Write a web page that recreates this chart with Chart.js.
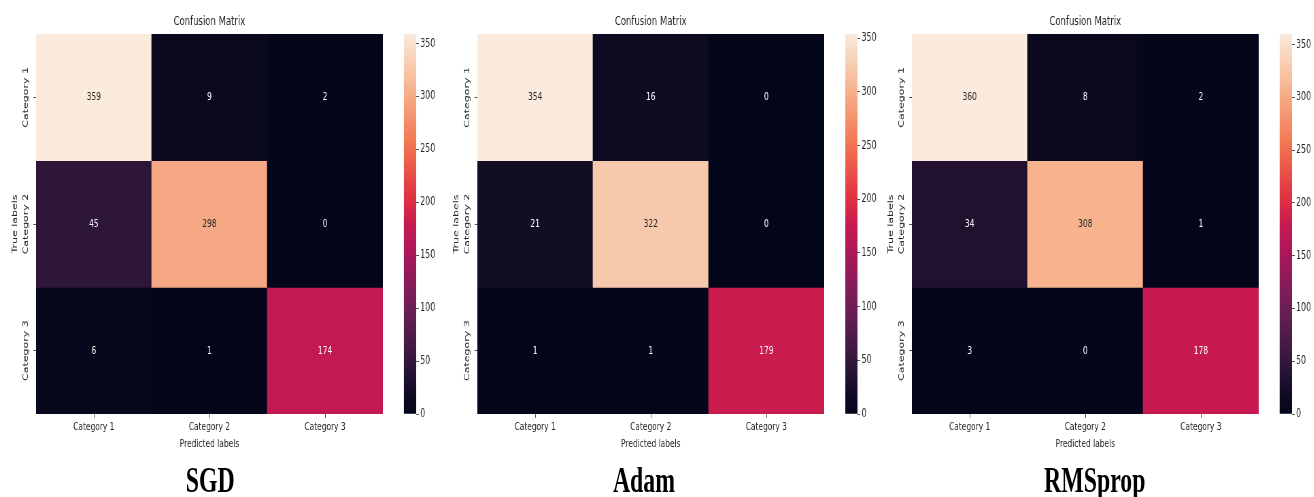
<!DOCTYPE html>
<html>
<head>
<meta charset="utf-8">
<script src="https://cdn.jsdelivr.net/npm/chart.js@4.4.0/dist/chart.umd.min.js"></script>
<style>
  html, body { margin: 0; padding: 0; background: #fff; overflow: hidden; }
  #figure { position: absolute; left: 0; top: 0; width: 1932px; height: 497px; transform: scaleX(0.68); transform-origin: 0 0; }
  .panel { position: absolute; top: 0; height: 460px; }
  .panel canvas { position: absolute; top: 0; }
  .optName { position: absolute; top: 459px; width: 300px; margin-left: -150px; text-align: center;
             font-family: "Liberation Serif", "Times New Roman", serif; font-weight: bold; font-size: 35px; line-height: 44px; color: #000; }
</style>
</head>
<body>
<div id="figure"></div>
<script>
var categories = ['Category 1', 'Category 2', 'Category 3'];
var optimizers = ['SGD', 'Adam', 'RMSprop'];
var sgdMatrix = [[359, 9, 2], [45, 298, 0], [6, 1, 174]];
var adamMatrix = [[354, 16, 0], [21, 322, 0], [1, 1, 179]];
var rmspropMatrix = [[360, 8, 2], [34, 308, 1], [3, 0, 178]];
var matrices = [sgdMatrix, adamMatrix, rmspropMatrix];

var FONT = "'DejaVu Sans', sans-serif";
var TEXT = '#262626';

// layout in unscaled px (figure is squeezed by scaleX(0.68))
var panelLeft = [0, 648.5, 1288.2];
var nameCenter = [309, 947, 1610];

// seaborn "rocket" colormap, approximated
var rocketStops = [
    [0.0, [3, 5, 26]],
    [0.06, [18, 12, 37]],
    [1 / 7, [53, 25, 62]],
    [2 / 7, [112, 31, 87]],
    [3 / 7, [173, 23, 89]],
    [0.5, [200, 26, 80]],
    [4 / 7, [225, 51, 66]],
    [5 / 7, [243, 118, 81]],
    [6 / 7, [246, 180, 143]],
    [1.0, [250, 235, 221]]
];

function rocketRgb(t) {
    t = Math.max(0, Math.min(1, t));
    for (var i = 1; i < rocketStops.length; i++) {
        if (t <= rocketStops[i][0]) {
            var a = rocketStops[i - 1], b = rocketStops[i];
            var f = (t - a[0]) / (b[0] - a[0]);
            return [0, 1, 2].map(function(k) { return Math.round(a[1][k] + f * (b[1][k] - a[1][k])); });
        }
    }
    return rocketStops[rocketStops.length - 1][1];
}
function rocket(t) {
    var c = rocketRgb(t);
    return 'rgb(' + c[0] + ',' + c[1] + ',' + c[2] + ')';
}
function luminance(c) {
    var l = c.map(function(v) {
        v = v / 255;
        return v <= 0.03928 ? v / 12.92 : Math.pow((v + 0.055) / 1.055, 2.4);
    });
    return 0.2126 * l[0] + 0.7152 * l[1] + 0.0722 * l[2];
}

// cell numbers, title, rotated y labels, axis titles
var heatText = {
    id: 'heatText',
    afterDraw: function(chart, args, opts) {
        var ctx = chart.ctx;
        var area = chart.chartArea;
        var yScale = chart.scales.y;
        ctx.save();
        ctx.textAlign = 'center';
        ctx.textBaseline = 'middle';

        // annotations
        ctx.font = '11px ' + FONT;
        chart.data.datasets.forEach(function(ds, d) {
            var meta = chart.getDatasetMeta(d);
            meta.data.forEach(function(bar, i) {
                var v = ds.cellValues[i];
                var rgb = rocketRgb(v / opts.vmax);
                ctx.fillStyle = luminance(rgb) > 0.408 ? TEXT : '#ffffff';
                ctx.fillText(String(v), bar.x, (bar.y + bar.base) / 2);
            });
        });

        ctx.fillStyle = TEXT;
        var cx = (area.left + area.right) / 2;
        ctx.font = '12.5px ' + FONT;
        ctx.fillText(opts.title, cx, 22);

        ctx.font = '11px ' + FONT;
        ctx.fillText(opts.xTitle, cx, 444);

        // y tick labels, rotated
        categories.forEach(function(c, i) {
            ctx.save();
            ctx.translate(38, yScale.getPixelForValue(i + 0.5));
            ctx.rotate(-Math.PI / 2);
            ctx.fillText(c, 0, 0);
            ctx.restore();
        });
        ctx.save();
        ctx.translate(22, (area.top + area.bottom) / 2);
        ctx.rotate(-Math.PI / 2);
        ctx.fillText(opts.yTitle, 0, 0);
        ctx.restore();

        ctx.restore();
    }
};

function makeHeatmap(canvas, matrix) {
    var vmax = Math.max.apply(null, matrix.flat());
    var datasets = matrix.map(function(row, r) {
        return {
            data: row.map(function() { return [r, r + 1]; }),
            cellValues: row,
            backgroundColor: row.map(function(v) { return rocket(v / vmax); }),
            borderWidth: 0,
            grouped: false,
            barPercentage: 1,
            categoryPercentage: 1
        };
    });
    return new Chart(canvas, {
        type: 'bar',
        data: { labels: categories, datasets: datasets },
        options: {
            responsive: false,
            animation: false,
            layout: { padding: { top: 34, right: 12, left: 0, bottom: 0 } },
            plugins: {
                legend: { display: false },
                tooltip: { enabled: false },
                heatText: { vmax: vmax, title: 'Confusion Matrix', xTitle: 'Predicted labels', yTitle: 'True labels' }
            },
            scales: {
                x: {
                    type: 'category',
                    grid: { offset: false, drawOnChartArea: false, drawTicks: true, tickLength: 4, color: '#555' },
                    border: { display: false },
                    ticks: { font: { family: FONT, size: 11 }, color: TEXT, padding: 3, maxRotation: 0 },
                    afterFit: function(s) { s.height = 46; }
                },
                y: {
                    type: 'linear',
                    min: 0,
                    max: 3,
                    reverse: true,
                    afterBuildTicks: function(s) {
                        s.ticks = categories.map(function(c, i) { return { value: i + 0.5 }; });
                    },
                    ticks: { display: false },
                    grid: { drawOnChartArea: false, drawTicks: true, tickLength: 4, color: '#555' },
                    border: { display: false },
                    afterFit: function(s) { s.width = 53; }
                }
            }
        },
        plugins: [heatText]
    });
}

function makeColorbar(canvas, matrix) {
    var vmax = Math.max.apply(null, matrix.flat());
    return new Chart(canvas, {
        type: 'bar',
        data: {
            labels: [''],
            datasets: [{
                data: [[0, vmax]],
                borderWidth: 0,
                barPercentage: 1,
                categoryPercentage: 1,
                backgroundColor: function(c) {
                    var area = c.chart.chartArea;
                    if (!area) return null;
                    var g = c.chart.ctx.createLinearGradient(0, area.bottom, 0, area.top);
                    for (var i = 0; i <= 40; i++) g.addColorStop(i / 40, rocket(i / 40));
                    return g;
                }
            }]
        },
        options: {
            responsive: false,
            animation: false,
            layout: { padding: { top: 34, bottom: 46, left: 0, right: 0 } },
            plugins: { legend: { display: false }, tooltip: { enabled: false } },
            scales: {
                x: { display: false },
                y: {
                    position: 'right',
                    min: 0,
                    max: vmax,
                    ticks: { stepSize: 50, includeBounds: false, font: { family: FONT, size: 11.5 }, color: TEXT, padding: 2 },
                    grid: { drawOnChartArea: false, drawTicks: true, tickLength: 4, color: '#555' },
                    border: { display: false },
                    afterFit: function(s) { s.width = 52; }
                }
            }
        }
    });
}

var figure = document.getElementById('figure');
matrices.forEach(function(m, p) {
    var panel = document.createElement('div');
    panel.className = 'panel';
    panel.style.left = panelLeft[p] + 'px';
    panel.style.width = '680px';
    figure.appendChild(panel);

    var hc = document.createElement('canvas');
    hc.width = 575; hc.height = 460;
    hc.style.left = '0px';
    panel.appendChild(hc);
    makeHeatmap(hc, m);

    var cc = document.createElement('canvas');
    cc.width = 70; cc.height = 460;
    cc.style.left = '594px';
    panel.appendChild(cc);
    makeColorbar(cc, m);

    var name = document.createElement('div');
    name.className = 'optName';
    name.style.left = nameCenter[p] + 'px';
    name.textContent = optimizers[p];
    figure.appendChild(name);
});
</script>
</body>
</html>
